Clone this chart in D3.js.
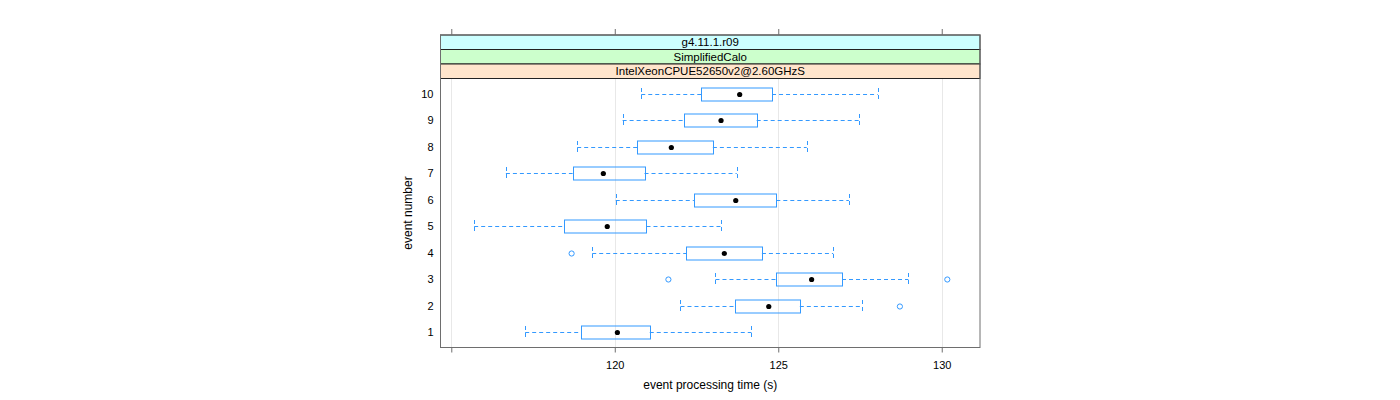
<!DOCTYPE html>
<html><head><meta charset="utf-8">
<script src="https://cdn.jsdelivr.net/npm/d3@7"></script>
<style>body{margin:0;background:#fff}svg{display:block}text{font-family:"Liberation Sans",Arial,sans-serif}</style>
</head><body>
<svg id="c" width="1400" height="400"></svg>
<script>
const events = [1,2,3,4,5,6,7,8,9,10];
const whiskerLow  = [117.26,122.01,123.08,119.31,115.70,120.03,116.67,118.85,120.24,120.81];
const q1          = [118.98,123.68,124.94,122.19,118.44,122.42,118.71,120.69,122.11,122.64];
const median      = [120.08,124.71,126.02,123.35,119.77,123.70,119.65,121.73,123.25,123.82];
const q3          = [121.07,125.66,126.95,124.50,120.97,124.94,120.91,123.00,124.34,124.81];
const whiskerHigh = [124.18,127.55,128.98,126.68,123.25,127.16,123.73,125.87,127.46,128.04];
const outliers = [
  {event:2, value:128.72},
  {event:3, value:121.64},
  {event:3, value:130.17},
  {event:4, value:118.68}
];
const xTicks = [115,120,125,130];
const xTickLabels = ["","120","125","130"];
const strips = ["g4.11.1.r09","SimplifiedCalo","IntelXeonCPUE52650v2@2.60GHzS"];
const stripColors = ["#ccffff","#ccffcc","#ffe5cc"];

const svg = d3.select("#c");
const L = 440.5, R = 980, T = 78.5, B = 347.5;
const x = d3.scaleLinear().domain([114.67,131.17]).range([L,R]);
const y = d3.scaleLinear().domain([0.433,10.567]).range([B,T]);
const blue = "#3399ff";
const boxH = 13;

// grid
svg.append("g").selectAll("line").data(xTicks).join("line")
  .attr("x1",d=>Math.round(x(d))+0.5).attr("x2",d=>Math.round(x(d))+0.5)
  .attr("y1",T).attr("y2",B).attr("stroke","#e8e8e8");

// strips
const sh = 14.5;
strips.forEach((s,i)=>{
  const y0 = T - sh*(strips.length - i);
  svg.append("rect").attr("x",L).attr("y",y0).attr("width",R-L).attr("height",sh)
    .attr("fill",stripColors[i]).attr("stroke","#222").attr("stroke-width",1);
  svg.append("text").attr("x",(L+R)/2).attr("y",y0+sh/2+4).attr("text-anchor","middle")
    .attr("font-size",11.5).attr("fill","#000").text(s);
});
const stripTop = T - sh*strips.length;
// outer border (panel + strips)
svg.append("rect").attr("x",L).attr("y",stripTop).attr("width",R-L).attr("height",B-stripTop)
  .attr("fill","none").attr("stroke","#6e6e6e");

// x axis bottom
const xAxis = d3.axisBottom(x).tickValues(xTicks).tickFormat((d,i)=>xTickLabels[i]).tickSize(5).tickPadding(9);
const gx = svg.append("g").attr("transform",`translate(0,${B})`).call(xAxis);
gx.select(".domain").remove();
gx.selectAll("line").attr("stroke","#6e6e6e");
gx.selectAll("text").attr("font-size",11).attr("font-family","Liberation Sans, Arial, sans-serif");
// x axis top ticks
const gxt = svg.append("g").attr("transform",`translate(0,${stripTop})`)
  .call(d3.axisTop(x).tickValues(xTicks).tickFormat("").tickSize(6));
gxt.select(".domain").remove();
gxt.selectAll("line").attr("stroke","#6e6e6e");

// y axis labels
const gy = svg.append("g").attr("transform",`translate(${L},0)`)
  .call(d3.axisLeft(y).tickValues(events).tickFormat(d3.format("d")).tickSize(0).tickPadding(7));
gy.select(".domain").remove();
gy.selectAll("text").attr("font-size",11).attr("font-family","Liberation Sans, Arial, sans-serif");

// titles
svg.append("text").attr("x",(L+R)/2).attr("y",389).attr("text-anchor","middle").attr("font-size",12).text("event processing time (s)");
svg.append("text").attr("transform",`translate(412,${(T+B)/2}) rotate(-90)`).attr("text-anchor","middle").attr("font-size",12).text("event number");

// boxes
const g = svg.append("g");
events.forEach((e,i)=>{
  const cy = Math.round(y(e))+0.5;
  // whiskers
  [[whiskerLow[i],q1[i]],[q3[i],whiskerHigh[i]]].forEach(([a,b])=>{
    g.append("line").attr("x1",x(a)).attr("x2",x(b)).attr("y1",cy).attr("y2",cy)
      .attr("stroke",blue).attr("stroke-dasharray","4,3");
  });
  [whiskerLow[i],whiskerHigh[i]].forEach(v=>{
    g.append("line").attr("x1",Math.round(x(v))+0.5).attr("x2",Math.round(x(v))+0.5)
      .attr("y1",cy-boxH/2).attr("y2",cy+boxH/2).attr("stroke",blue).attr("stroke-dasharray","4,3");
  });
  g.append("rect").attr("x",Math.round(x(q1[i]))+0.5).attr("y",cy-boxH/2)
    .attr("width",Math.round(x(q3[i]))-Math.round(x(q1[i]))).attr("height",boxH)
    .attr("fill","none").attr("stroke",blue);
  g.append("circle").attr("cx",x(median[i])).attr("cy",cy).attr("r",2.6).attr("fill","#000");
});
g.selectAll("circle.out").data(outliers).join("circle").attr("class","out")
  .attr("cx",d=>x(d.value)).attr("cy",d=>Math.round(y(d.event))+0.5).attr("r",2.6)
  .attr("fill","none").attr("stroke",blue);
</script>
</body></html>
